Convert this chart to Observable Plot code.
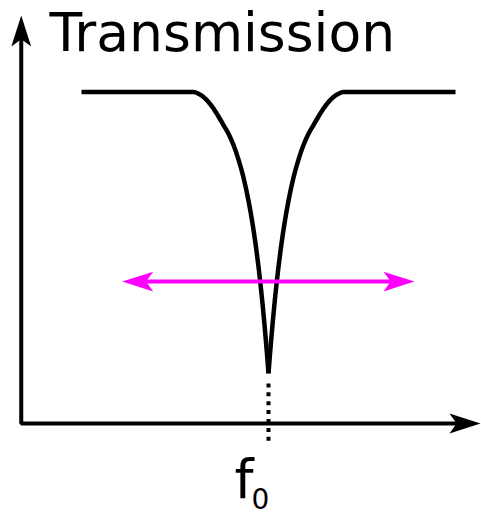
<!DOCTYPE html>
<html><head><meta charset="utf-8">
<script src="https://cdn.jsdelivr.net/npm/d3@7"></script>
<script src="https://cdn.jsdelivr.net/npm/@observablehq/plot@0.6"></script>
<style>html,body{margin:0;padding:0;background:#fff}</style>
</head><body><div id="chart"></div>
<script>
// Transmission curve: detuning from f0 (left branch, then right branch), transmission values
const leftDetuning  = [-187, -75, -70, -65, -60, -55, -50, -45, -40, -35, -30, -25, -20, -16, -12.5, -10, -8, -6, -4, -2.5, -1.2, 0];
const rightDetuning = [0, 1.2, 2.5, 4, 6, 8, 10, 12.5, 16, 20, 25, 30, 35, 40, 45, 50, 55, 60, 65, 70, 75, 187];
const leftTransmission  = [1.000, 1.000, 0.995, 0.985, 0.970, 0.950, 0.926, 0.900, 0.874, 0.840, 0.796, 0.742, 0.672, 0.604, 0.532, 0.473, 0.420, 0.362, 0.298, 0.246, 0.198, 0.151];
const rightTransmission = [0.151, 0.198, 0.246, 0.298, 0.362, 0.420, 0.473, 0.532, 0.604, 0.672, 0.742, 0.796, 0.840, 0.874, 0.900, 0.926, 0.950, 0.970, 0.985, 0.995, 1.000, 1.000];

// Axes (drawn as arrows)
const axisX = [-247.25, -247.25, 200];
const axisY = [1.195, 0, 0];

// Linewidth (magenta double arrow)
const widthLevel = 0.428;
const widthLineX = [-134, 134];

// Arrow heads: tip positions, direction, colour
const headX = [-247.25, 212, -146.3, 146];
const headY = [1.231, 0, 0.428, 0.428];
const headAngle = [-90, 0, 180, 0];
const headColor = ["black", "black", "#ff00ff", "#ff00ff"];

// Dotted marker from the dip down through the axis
const dotLineX = [0, 0];
const dotLineY = [0.121, -0.053];

// Text
const titleText = "Transmission";
const markerText = "f";
const markerSub = "0";

const curve = [
  ...leftDetuning.map((x, i) => ({x, y: leftTransmission[i], branch: "left"})),
  ...rightDetuning.map((x, i) => ({x, y: rightTransmission[i], branch: "right"}))
];
const axisPts = axisX.map((x, i) => ({x, y: axisY[i]}));
const widthPts = widthLineX.map(x => ({x, y: widthLevel}));
const heads = headX.map((x, i) => ({x, y: headY[i], a: headAngle[i], c: headColor[i]}));
const dotPts = dotLineX.map((x, i) => ({x, y: dotLineY[i]}));

const arrowHead = {
  draw(context, size) {
    const L = Math.sqrt(size / Math.PI);
    const W = L * 0.32;
    const N = L * 0.77;
    context.moveTo(0, 0);
    context.lineTo(-L, -W);
    context.lineTo(-N, 0);
    context.lineTo(-L, W);
    context.closePath();
  }
};

const font = "DejaVu Sans";

const chart = Plot.plot({
  width: 481,
  height: 513,
  margin: 0,
  style: {background: "#fff", fontFamily: font},
  x: {domain: [-247.5, 212.5], range: [20.5, 480.5], axis: null},
  y: {domain: [0, 1], range: [423, 91.5], axis: null},
  marks: [
    Plot.line(dotPts, {x: "x", y: "y", stroke: "black", strokeWidth: 4, strokeDasharray: "4,4.9", strokeLinecap: "butt"}),
    Plot.line(axisPts, {x: "x", y: "y", stroke: "black", strokeWidth: 4, strokeLinejoin: "miter", strokeLinecap: "butt"}),
    Plot.line(curve, {x: "x", y: "y", z: "branch", curve: "monotone-x", stroke: "black", strokeWidth: 4.5, strokeLinecap: "butt", strokeLinejoin: "round"}),
    Plot.line(widthPts, {x: "x", y: "y", stroke: "#ff00ff", strokeWidth: 4, strokeLinecap: "butt"}),
    Plot.dot(heads, {x: "x", y: "y", r: 31, rotate: "a", fill: "c", stroke: "none", symbol: arrowHead}),
    Plot.text([titleText], {x: -219, y: 1.125, text: d => d, textAnchor: "start", lineAnchor: "bottom", fontSize: 53.5, fontFamily: font, fill: "black"}),
    Plot.text([markerText], {x: -34, y: -0.226, text: d => d, textAnchor: "start", lineAnchor: "bottom", fontSize: 54, fontFamily: font, fill: "black"}),
    Plot.text([markerSub], {x: -17, y: -0.259, text: d => d, textAnchor: "start", lineAnchor: "bottom", fontSize: 28, fontFamily: font, fill: "black"})
  ]
});
document.getElementById("chart").appendChild(chart);
</script>
</body></html>
